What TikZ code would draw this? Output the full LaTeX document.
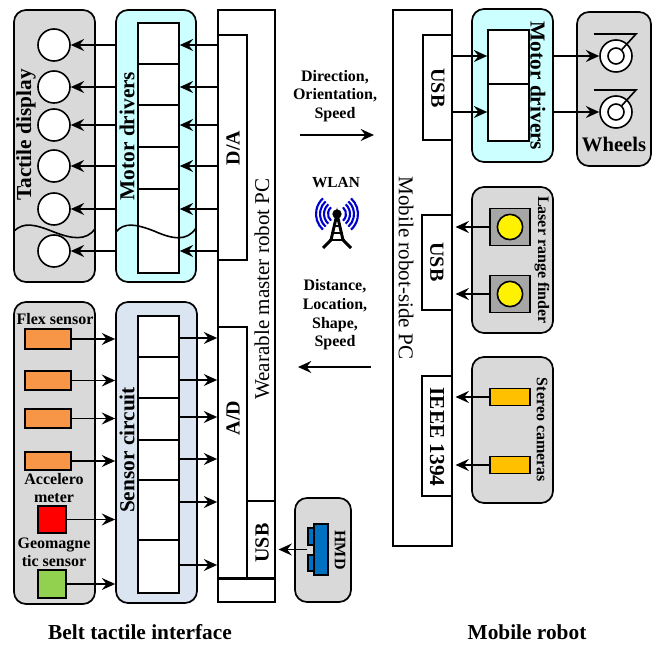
\documentclass[tikz,border=0pt]{standalone}
\usepackage{fontspec}
\setmainfont{Liberation Serif}
\usepackage{xcolor}
\usetikzlibrary{fit, positioning, arrows.meta}
\definecolor{panelgray}{HTML}{D9D9D9}
\definecolor{drivercyan}{HTML}{CCFFFF}
\definecolor{sensorblue}{HTML}{DBE5F1}
\definecolor{flexorange}{HTML}{F79646}
\definecolor{camorange}{HTML}{FFC000}
\definecolor{acclred}{HTML}{FF0000}
\definecolor{geogreen}{HTML}{92D050}
\definecolor{hmdblue}{HTML}{0070C0}
\definecolor{laserbase}{HTML}{A6A6A6}
\definecolor{wlanblue}{HTML}{0000CC}
\tikzset{
  panel/.style={draw, line width=1.3pt, rounded corners=9pt, inner sep=0pt},
  block/.style={draw, line width=1.3pt, fill=white, inner sep=0pt},
  part/.style={draw, line width=1.2pt, inner sep=0pt},
  dot/.style={circle, draw, line width=1.2pt, fill=white, minimum size=24pt, inner sep=0pt},
  wire/.style={line width=1.2pt, -{Stealth[length=10pt, width=9pt, inset=3.5pt]}},
  wave/.style={line width=1.2pt},
  caption/.style={font=\bfseries\fontsize{16}{18}\selectfont},
  small/.style={font=\bfseries\fontsize{12}{13.5}\selectfont, align=center},
  link/.style={font=\bfseries\fontsize{12}{14}\selectfont, align=center},
  big/.style={font=\bfseries\fontsize{16}{18}\selectfont},
  mid/.style={font=\bfseries\fontsize{15}{17}\selectfont},
  pclabel/.style={font=\fontsize{15.8}{18}\selectfont}
}
\begin{document}
\begin{tikzpicture}[x=0.75pt, y=-0.75pt]
\useasboundingbox (0,0) rectangle (654,645);
% belt side, tactile display and drivers
\node[panel, fill=panelgray, fit={(14,10) (95,282)}] (tactbox) {};
\node[panel, fill=drivercyan, fit={(116,10) (196,282)}] (mdbox) {};
\node[block, fit={(218,10) (275,602)}] (masterpc) {};
\node[block, fit={(218,35) (247,260)}] (dabox) {};
\foreach \n/\ya/\yb in {1/23/64, 2/64/105, 3/105/147, 4/147/189, 5/189/273}
  \node[part, fill=white, fit={(138,\ya) (179,\yb)}] (mdcell\n) {};
\foreach \n/\y in {1/45, 2/87, 3/125, 4/166, 5/209, 6/251}
  \node[dot] (tact\n) at (54,\y) {};
\foreach \n in {1,...,6} {
  \draw[wire] (tact\n -| mdbox.west) -- (tact\n.east);
  \draw[wire] (tact\n -| dabox.west) -- (tact\n -| mdcell1.east);
}
\draw[wave] (14,231) .. controls (24,222) and (34,224) .. (54,232) .. controls (72,239) and (86,241) .. (95,229);
\draw[wave] (116,232) .. controls (124,222) and (136,224) .. (154,231) .. controls (172,239) and (187,242) .. (196,228);
\node[big, rotate=90] (tactlabel) at (26,135) {Tactile display};
\node[big, rotate=90] (mdlabel) at (127,136) {Motor drivers};
\node[mid, rotate=90] (dalabel) at (233,148) {D/A};
% belt side, sensors
\node[panel, fill=panelgray, fit={(14,302) (95,604)}] (sensbox) {};
\node[panel, fill=sensorblue, fit={(116,302) (197,603)}] (scbox) {};
\node[block, fit={(218,327) (247,578)}] (adbox) {};
\node[block, fit={(247,501) (275,578)}] (usbhmd) {};
\draw[line width=1.3pt] (adbox.south west) -- (usbhmd.south east);
\foreach \n/\ya/\yb in {1/316/357, 2/357/398, 3/398/440, 4/440/480, 5/480/540, 6/540/593}
  \node[part, fill=white, fit={(138,\ya) (179,\yb)}] (sccell\n) {};
\foreach \n/\ya/\yb in {1/329/349, 2/371/390, 3/409/428, 4/452/470}
  \node[part, fill=flexorange, fit={(25,\ya) (71,\yb)}] (sens\n) {};
\node[part, fill=acclred, fit={(38,506) (66,533)}] (sens5) {};
\node[part, fill=geogreen, fit={(38,570) (66,598)}] (sens6) {};
\foreach \n in {1,...,6}
  \draw[wire] (sens\n.east) -- (sens\n -| scbox.west);
\foreach \n/\y in {1/338, 2/380, 3/417, 4/459, 5/502, 6/565}
  \draw[wire] (sccell\n.east |- 0,\y) -- (adbox.west |- 0,\y);
\node[small] (flexlabel) at (55,319) {Flex sensor};
\node[small] (accllabel) at (54,488.5) {Accelero\\meter};
\node[small] (geolabel) at (54,552) {Geomagne\\tic sensor};
\node[big, rotate=90] (sclabel) at (127,450) {Sensor circuit};
\node[mid, rotate=90] (adlabel) at (233,418) {A/D};
\node[mid, rotate=90] (usblabel) at (262,543) {USB};
\node[pclabel, rotate=90] (masterlabel) at (262,289) {Wearable master robot PC};
% hmd
\node[panel, fill=panelgray, fit={(295,498) (351,602)}] (hmdbox) {};
\node[part, fill=hmdblue, fit={(308,528) (314,545)}] (hmdtab1) {};
\node[part, fill=hmdblue, fit={(308,555) (314,571)}] (hmdtab2) {};
\node[part, fill=hmdblue, fit={(314,524) (328,575)}] (hmd) {};
\draw[wire] (hmdtab1.west |- hmd) -- ([xshift=2pt]usbhmd.east |- hmd);
\node[small, rotate=-90] (hmdlabel) at (340,550) {HMD};
% wireless link
\node[link] (cmdlabel) at (335,96) {Direction,\\Orientation,\\Speed};
\coordinate (cmdtail) at (300,135);
\coordinate (cmdhead) at (374,135);
\draw[wire] (cmdtail) -- (cmdhead);
\node[small, font=\bfseries\fontsize{11.5}{13}\selectfont] (wlanlabel) at (336,183) {WLAN};
\coordinate (mast) at (337,214);
\foreach \r in {9,13,17,21} {
  \draw[wlanblue, line width=1.6pt] ([shift={(-48:\r)}]mast) arc (-48:48:\r);
  \draw[wlanblue, line width=1.6pt] ([shift={(132:\r)}]mast) arc (132:228:\r);
}
\fill (mast) circle (3.5pt);
\draw[line width=2.2pt] (323,248) -- (331,240) -- (mast) -- (343,240) -- (351,248);
\draw[line width=1.3pt] (333,226) -- (341,226) (331,233) -- (343,233) (329,240) -- (345,240);
\node[link] (datalabel) at (335,315) {Distance,\\Location,\\Shape,\\Speed};
\coordinate (datatail) at (371,367);
\coordinate (datahead) at (298,367);
\draw[wire] (datatail) -- (datahead);
% mobile robot
\node[block, fit={(393,10) (452,546)}] (robotpc) {};
\node[block, fit={(423,35) (452,140)}] (usbmotor) {};
\node[block, fit={(422,215) (452,310)}] (usblaser) {};
\node[block, fit={(422,376) (452,496)}] (ieeebox) {};
\node[mid, rotate=-90] (usbmotorlabel) at (438,88) {USB};
\node[mid, rotate=-90] (usblaserlabel) at (437,262) {USB};
\node[big, rotate=-90] (ieeelabel) at (437,437) {IEEE 1394};
\node[pclabel, rotate=-90] (robotlabel) at (406,268) {Mobile robot-side PC};
\node[panel, fill=drivercyan, fit={(472,9) (553,162)}] (rmdbox) {};
\node[part, fill=white, fit={(488,30) (529,84)}] (rmdcell1) {};
\node[part, fill=white, fit={(488,84) (529,141)}] (rmdcell2) {};
\node[big, rotate=-90] (rmdlabel) at (538,86) {Motor drivers};
\node[panel, fill=panelgray, fit={(577,12) (651,166)}] (wheelbox) {};
\foreach \n/\y in {1/56, 2/112} {
  \node[dot] (wheel\n) at (616,\y) {};
  \node[dot, minimum size=12pt] (hub\n) at (616,\y) {};
  \draw[wave] (594,\y-22) -- (636,\y-22) -- (hub\n);
  \draw[wire] (usbmotor.east |- wheel\n) -- (wheel\n -| rmdcell1.west);
  \draw[wire] (wheel\n -| rmdbox.east) -- (wheel\n.west);
}
\node[big, font=\bfseries\fontsize{15.5}{18}\selectfont] (wheellabel) at (614,144) {Wheels};
\node[panel, fill=panelgray, fit={(472,187) (553,333)}] (laserbox) {};
\foreach \n/\y in {1/227, 2/294} {
  \node[part, fill=laserbase, minimum width=30pt, minimum height=28pt] (lasercase\n) at (510,\y) {};
  \node[dot, fill=yellow, minimum size=19pt] (laser\n) at (510,\y) {};
  \draw[wire] (lasercase\n.west) -- ([xshift=2pt]lasercase\n -| robotpc.east);
}
\node[small, rotate=-90] (laserlabel) at (542,260) {Laser range finder};
\node[panel, fill=panelgray, fit={(472,357) (553,503)}] (stereobox) {};
\foreach \n/\y in {1/397, 2/465} {
  \node[part, fill=camorange, minimum width=30pt, minimum height=13pt] (cam\n) at (510,\y) {};
  \draw[wire] (cam\n.west) -- ([xshift=2pt]cam\n -| robotpc.east);
}
\node[small, rotate=-90] (stereolabel) at (542,430) {Stereo cameras};
% captions
\node[caption] (beltcap) at (140,632) {Belt tactile interface};
\node[caption] (robotcap) at (527,632) {Mobile robot};
\end{tikzpicture}
\end{document}
